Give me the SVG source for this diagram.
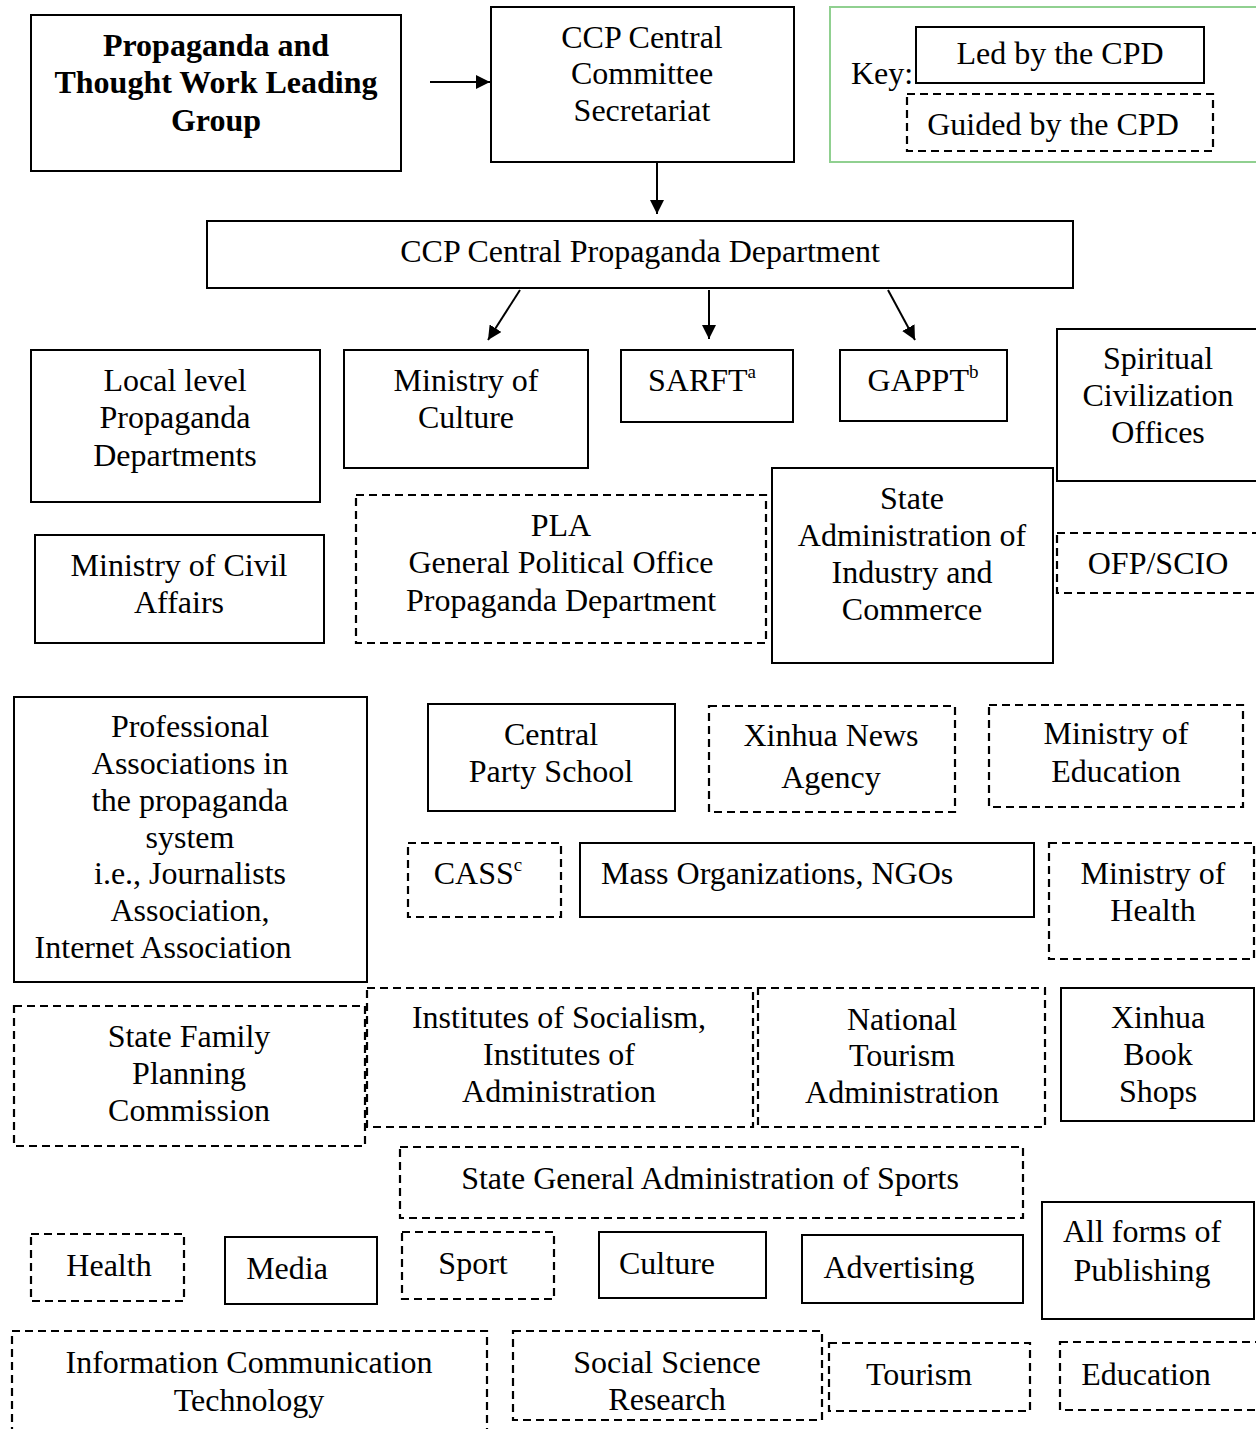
<svg xmlns="http://www.w3.org/2000/svg" width="1256" height="1429" viewBox="0 0 1256 1429">
<style>
.s{fill:#fff;stroke:#000;stroke-width:2}
.d{fill:#fff;stroke:#000;stroke-width:2.2;stroke-dasharray:8 5}
.k{fill:#fff;stroke:#90d090;stroke-width:2}
text{font-family:"Liberation Serif","Times New Roman",serif;font-size:32px;fill:#000;text-anchor:middle}
.b{font-weight:bold;font-size:32px}
.l{text-anchor:start}
.sup{font-size:19px}
.c{stroke:#000;stroke-width:2;fill:none;marker-end:url(#ah)}
</style>
<defs>
<marker id="ah" viewBox="0 0 10 10" refX="10" refY="5" markerWidth="7" markerHeight="7" markerUnits="strokeWidth" orient="auto">
<path d="M0,0 L10,5 L0,10 z" fill="#000"/>
</marker>
</defs>
<rect width="1256" height="1429" fill="#fff"/>
<g id="connectors">
<line class="c" x1="430" y1="82" x2="490" y2="82"/>
<line class="c" x1="657" y1="163" x2="657" y2="214"/>
<line class="c" x1="520" y1="290" x2="488" y2="340"/>
<line class="c" x1="709" y1="290" x2="709" y2="339"/>
<line class="c" x1="888" y1="290" x2="915" y2="340"/>
</g>
<g id="ptwlg"><rect class="s" x="31" y="15" width="370" height="156"/>
<text class="b" x="216" y="56">Propaganda and</text><text class="b" x="216" y="93">Thought Work Leading</text><text class="b" x="216" y="131">Group</text></g>
<g id="secretariat"><rect class="s" x="491" y="7" width="303" height="155"/>
<text x="642" y="48">CCP Central</text><text x="642" y="84">Committee</text><text x="642" y="121">Secretariat</text></g>
<g id="key"><rect class="k" x="830" y="7" width="430" height="155"/>
<text class="l" x="851" y="84">Key:</text>
<rect class="s" x="916" y="27" width="288" height="56"/><text x="1060" y="64">Led by the CPD</text>
<rect class="d" x="907" y="94" width="306" height="57"/><text x="1053" y="135">Guided by the CPD</text></g>
<g id="cpd"><rect class="s" x="207" y="221" width="866" height="67"/>
<text x="640" y="262">CCP Central Propaganda Department</text></g>
<g id="local"><rect class="s" x="31" y="350" width="289" height="152"/>
<text x="175" y="391">Local level</text><text x="175" y="428">Propaganda</text><text x="175" y="466">Departments</text></g>
<g id="culture-min"><rect class="s" x="344" y="350" width="244" height="118"/>
<text x="466" y="391">Ministry of</text><text x="466" y="428">Culture</text></g>
<g id="sarft"><rect class="s" x="621" y="350" width="172" height="72"/>
<text x="702" y="391">SARFT<tspan class="sup" dy="-13">a</tspan></text></g>
<g id="gappt"><rect class="s" x="840" y="350" width="167" height="71"/>
<text x="923" y="391">GAPPT<tspan class="sup" dy="-13">b</tspan></text></g>
<g id="spiritual"><rect class="s" x="1057" y="329" width="205" height="152"/>
<text x="1158" y="369">Spiritual</text><text x="1158" y="406">Civilization</text><text x="1158" y="443">Offices</text></g>
<g id="civil"><rect class="s" x="35" y="535" width="289" height="108"/>
<text x="179" y="576">Ministry of Civil</text><text x="179" y="613">Affairs</text></g>
<g id="pla"><rect class="d" x="356" y="495" width="410" height="148"/>
<text x="561" y="536">PLA</text><text x="561" y="573">General Political Office</text><text x="561" y="611">Propaganda Department</text></g>
<g id="saic"><rect class="s" x="772" y="468" width="281" height="195"/>
<text x="912" y="509">State</text><text x="912" y="546">Administration of</text><text x="912" y="583">Industry and</text><text x="912" y="620">Commerce</text></g>
<g id="ofp"><rect class="d" x="1057" y="533" width="205" height="60"/>
<text x="1158" y="574">OFP/SCIO</text></g>
<g id="prof"><rect class="s" x="14" y="697" width="353" height="285"/>
<text x="190" y="737">Professional</text><text x="190" y="774">Associations in</text><text x="190" y="811">the propaganda</text><text x="190" y="848">system</text><text x="190" y="884">i.e., Journalists</text><text x="190" y="921">Association,</text><text x="163" y="958">Internet Association</text></g>
<g id="party-school"><rect class="s" x="428" y="704" width="247" height="107"/>
<text x="551" y="745">Central</text><text x="551" y="782">Party School</text></g>
<g id="xinhua-news"><rect class="d" x="709" y="706" width="246" height="106"/>
<text x="831" y="746">Xinhua News</text><text x="831" y="788">Agency</text></g>
<g id="moe"><rect class="d" x="989" y="705" width="254" height="102"/>
<text x="1116" y="744">Ministry of</text><text x="1116" y="782">Education</text></g>
<g id="cass"><rect class="d" x="408" y="843" width="153" height="74"/>
<text x="478" y="884">CASS<tspan class="sup" dy="-13">c</tspan></text></g>
<g id="mass"><rect class="s" x="580" y="843" width="454" height="74"/>
<text class="l" x="601" y="884">Mass Organizations, NGOs</text></g>
<g id="moh"><rect class="d" x="1049" y="843" width="205" height="116"/>
<text x="1153" y="884">Ministry of</text><text x="1153" y="921">Health</text></g>
<g id="family"><rect class="d" x="14" y="1006" width="351" height="140"/>
<text x="189" y="1047">State Family</text><text x="189" y="1084">Planning</text><text x="189" y="1121">Commission</text></g>
<g id="institutes"><rect class="d" x="367" y="988" width="386" height="139"/>
<text x="559" y="1028">Institutes of Socialism,</text><text x="559" y="1065">Institutes of</text><text x="559" y="1102">Administration</text></g>
<g id="tourism-admin"><rect class="d" x="758" y="988" width="287" height="139"/>
<text x="902" y="1030">National</text><text x="902" y="1066">Tourism</text><text x="902" y="1103">Administration</text></g>
<g id="bookshops"><rect class="s" x="1061" y="988" width="193" height="133"/>
<text x="1158" y="1028">Xinhua</text><text x="1158" y="1065">Book</text><text x="1158" y="1102">Shops</text></g>
<g id="sports-admin"><rect class="d" x="400" y="1147" width="623" height="71"/>
<text x="710" y="1189">State General Administration of Sports</text></g>
<g id="health"><rect class="d" x="31" y="1234" width="153" height="67"/>
<text x="109" y="1276">Health</text></g>
<g id="media"><rect class="s" x="225" y="1237" width="152" height="67"/>
<text x="287" y="1279">Media</text></g>
<g id="sport"><rect class="d" x="402" y="1232" width="152" height="67"/>
<text x="473" y="1274">Sport</text></g>
<g id="culture"><rect class="s" x="599" y="1232" width="167" height="66"/>
<text x="667" y="1274">Culture</text></g>
<g id="advertising"><rect class="s" x="802" y="1235" width="221" height="68"/>
<text x="899" y="1278">Advertising</text></g>
<g id="publishing"><rect class="s" x="1042" y="1202" width="212" height="117"/>
<text x="1142" y="1242">All forms of</text><text x="1142" y="1281">Publishing</text></g>
<g id="ict"><rect class="d" x="12" y="1331" width="475" height="110"/>
<text x="249" y="1373">Information Communication</text><text x="249" y="1411">Technology</text></g>
<g id="ssr"><rect class="d" x="513" y="1331" width="309" height="89"/>
<text x="667" y="1373">Social Science</text><text x="667" y="1410">Research</text></g>
<g id="tourism"><rect class="d" x="829" y="1343" width="201" height="68"/>
<text x="919" y="1385">Tourism</text></g>
<g id="education"><rect class="d" x="1060" y="1342" width="200" height="68"/>
<text x="1146" y="1385">Education</text></g>
</svg>
